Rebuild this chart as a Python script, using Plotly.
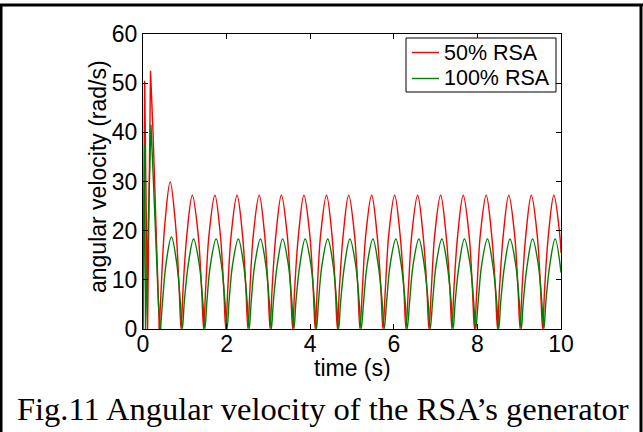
import plotly.graph_objects as go

# ---- data ----
red_t = [0.00, 0.04, 0.11, 0.18, 0.24, 0.30, 0.35,
         0.39, 0.44, 0.52, 0.65, 0.78, 0.86,
         0.91, 0.96, 1.05, 1.18, 1.32, 1.40,
         1.45, 1.50, 1.58, 1.72, 1.85, 1.93,
         1.98, 2.03, 2.11, 2.25, 2.38, 2.46,
         2.51, 2.56, 2.64, 2.78, 2.91, 2.99,
         3.04, 3.09, 3.18, 3.31, 3.45, 3.53,
         3.58, 3.63, 3.72, 3.85, 3.99, 4.07,
         4.12, 4.17, 4.25, 4.39, 4.52, 4.60,
         4.65, 4.70, 4.79, 4.92, 5.06, 5.14,
         5.19, 5.25, 5.33, 5.47, 5.60, 5.69,
         5.74, 5.80, 5.88, 6.02, 6.15, 6.24,
         6.29, 6.35, 6.43, 6.57, 6.70, 6.79,
         6.84, 6.90, 6.98, 7.12, 7.25, 7.34,
         7.39, 7.44, 7.53, 7.66, 7.80, 7.88,
         7.93, 7.99, 8.07, 8.21, 8.34, 8.43,
         8.48, 8.53, 8.62, 8.75, 8.89, 8.97,
         9.02, 9.07, 9.16, 9.29, 9.43, 9.51,
         9.56, 9.61, 9.70, 9.83, 9.97, 10.00]
red_v = [0.0, 50.5, 0.0, 52.5, 40.0, 22.0, 8.0,
         0.0, 9.2, 21.1, 29.9, 21.1, 9.2,
         0.0, 8.4, 19.2, 27.2, 19.2, 8.4,
         0.0, 8.4, 19.2, 27.2, 19.2, 8.4,
         0.0, 8.4, 19.2, 27.2, 19.2, 8.4,
         0.0, 8.4, 19.2, 27.2, 19.2, 8.4,
         0.0, 8.4, 19.2, 27.2, 19.2, 8.4,
         0.0, 8.4, 19.2, 27.2, 19.2, 8.4,
         0.0, 8.4, 19.2, 27.2, 19.2, 8.4,
         0.0, 8.4, 19.2, 27.2, 19.2, 8.4,
         0.0, 8.4, 19.2, 27.2, 19.2, 8.4,
         0.0, 8.4, 19.2, 27.2, 19.2, 8.4,
         0.0, 8.4, 19.2, 27.2, 19.2, 8.4,
         0.0, 8.4, 19.2, 27.2, 19.2, 8.4,
         0.0, 8.4, 19.2, 27.2, 19.2, 8.4,
         0.0, 8.4, 19.2, 27.2, 19.2, 8.4,
         0.0, 8.4, 19.2, 27.2, 19.2, 8.4,
         0.0, 8.4, 19.2, 27.2, 19.2, 8.4,
         0.0, 8.4, 19.2, 27.2, 19.2, 15.5]

green_t = [0.00, 0.04, 0.06, 0.19, 0.25, 0.32, 0.37,
           0.42, 0.47, 0.55, 0.68, 0.81, 0.89,
           0.94, 0.99, 1.08, 1.21, 1.35, 1.43,
           1.48, 1.53, 1.61, 1.75, 1.88, 1.96,
           2.01, 2.06, 2.14, 2.28, 2.41, 2.49,
           2.54, 2.59, 2.67, 2.81, 2.94, 3.02,
           3.07, 3.12, 3.21, 3.34, 3.48, 3.56,
           3.61, 3.66, 3.75, 3.88, 4.02, 4.10,
           4.15, 4.20, 4.28, 4.42, 4.55, 4.63,
           4.68, 4.73, 4.82, 4.95, 5.09, 5.17,
           5.22, 5.28, 5.36, 5.50, 5.63, 5.72,
           5.77, 5.83, 5.91, 6.05, 6.18, 6.27,
           6.32, 6.38, 6.46, 6.60, 6.73, 6.82,
           6.87, 6.93, 7.01, 7.15, 7.28, 7.37,
           7.42, 7.47, 7.56, 7.69, 7.83, 7.91,
           7.96, 8.02, 8.10, 8.24, 8.37, 8.46,
           8.51, 8.56, 8.65, 8.78, 8.92, 9.00,
           9.05, 9.10, 9.19, 9.32, 9.46, 9.54,
           9.59, 9.64, 9.73, 9.86, 10.00]
green_v = [0.0, 37.5, 0.0, 41.6, 30.0, 14.0, 5.0,
           0.0, 5.8, 13.2, 18.7, 13.2, 5.8,
           0.0, 5.7, 12.9, 18.3, 12.9, 5.7,
           0.0, 5.7, 12.9, 18.3, 12.9, 5.7,
           0.0, 5.7, 12.9, 18.3, 12.9, 5.7,
           0.0, 5.7, 12.9, 18.3, 12.9, 5.7,
           0.0, 5.7, 12.9, 18.3, 12.9, 5.7,
           0.0, 5.7, 12.9, 18.3, 12.9, 5.7,
           0.0, 5.7, 12.9, 18.3, 12.9, 5.7,
           0.0, 5.7, 12.9, 18.3, 12.9, 5.7,
           0.0, 5.7, 12.9, 18.3, 12.9, 5.7,
           0.0, 5.7, 12.9, 18.3, 12.9, 5.7,
           0.0, 5.7, 12.9, 18.3, 12.9, 5.7,
           0.0, 5.7, 12.9, 18.3, 12.9, 5.7,
           0.0, 5.7, 12.9, 18.3, 12.9, 5.7,
           0.0, 5.7, 12.9, 18.3, 12.9, 5.7,
           0.0, 5.7, 12.9, 18.3, 12.9, 5.7,
           0.0, 5.7, 12.9, 18.3, 12.9, 5.7,
           0.0, 5.7, 12.9, 18.3, 11.5]

# index where the start-up transient ends and the periodic part begins
red_split, green_split = 7, 7

series_names = ["50% RSA", "100% RSA"]
series_colors = ["#ff0000", "#008000"]
x_ticks = [0, 2, 4, 6, 8, 10]
y_ticks = [0, 10, 20, 30, 40, 50, 60]
x_title = "time (s)"
y_title = "angular velocity (rad/s)"
caption = "Fig.11 Angular velocity of the RSA\u2019s generator"

W, H = 643, 432
L, R, T, B = 143, 82, 34, 103
pw, ph = W - L - R, H - T - B


def px(xp):
    return (xp - L) / pw


def py(yp):
    return (H - B - yp) / ph


fig = go.Figure()
for (t, v, s), name, color in zip([(red_t, red_v, red_split), (green_t, green_v, green_split)],
                                  series_names, series_colors):
    fig.add_trace(go.Scatter(x=t[:s + 1], y=v[:s + 1], mode="lines", name=name,
                             legendgroup=name, showlegend=False, hoverinfo="skip",
                             line=dict(color=color, width=1.4)))
    fig.add_trace(go.Scatter(x=t[s:], y=v[s:], mode="lines", name=name,
                             legendgroup=name, showlegend=False, hoverinfo="skip",
                             line=dict(color=color, width=1.4, shape="spline", smoothing=1)))

sans = "Liberation Sans, Arial, sans-serif"
axis_font = dict(family=sans, size=23, color="black")

fig.update_layout(
    width=W, height=H,
    margin=dict(l=L, r=R, t=T, b=B, pad=0),
    paper_bgcolor="white", plot_bgcolor="white",
    font=axis_font,
    showlegend=False,
    xaxis=dict(range=[0, 10], tickvals=x_ticks, ticktext=[str(v) for v in x_ticks],
               showgrid=False, zeroline=False, showline=True, linecolor="black", linewidth=1,
               mirror="ticks", ticks="inside", ticklen=5, tickcolor="black",
               tickfont=axis_font, ticklabelstandoff=-6),
    yaxis=dict(range=[0, 60], tickvals=y_ticks, ticktext=[str(v) for v in y_ticks],
               showgrid=False, zeroline=False, showline=True, linecolor="black", linewidth=1,
               mirror="ticks", ticks="inside", ticklen=5, tickcolor="black",
               tickfont=axis_font),
)

# axis titles
fig.add_annotation(text=x_title, xref="paper", yref="paper", x=px(352), y=py(368),
                   xanchor="center", yanchor="middle", showarrow=False, font=axis_font)
fig.add_annotation(text=y_title, xref="paper", yref="paper", x=px(98), y=py(177),
                   xanchor="center", yanchor="middle", showarrow=False, textangle=-90,
                   font=axis_font)

# legend box drawn by hand (MATLAB-style compact legend)
fig.add_shape(type="rect", xref="paper", yref="paper", x0=px(406), x1=px(556), y0=py(92), y1=py(38),
              line=dict(color="black", width=1), fillcolor="white", layer="above")
for i, (name, color) in enumerate(zip(series_names, series_colors)):
    yy = [52.5, 78.5][i]
    fig.add_shape(type="line", xref="paper", yref="paper", x0=px(412), x1=px(439), y0=py(yy), y1=py(yy),
                  line=dict(color=color, width=1.4), layer="above")
    fig.add_annotation(text=name, xref="paper", yref="paper", x=px(442), y=py(yy),
                       xanchor="left", yanchor="middle", showarrow=False,
                       font=dict(family=sans, size=21.5, color="black"))

# outer frame of the figure page
border = dict(color="black", width=3)
fig.add_shape(type="line", xref="paper", yref="paper", x0=px(0), x1=px(643), y0=py(5), y1=py(5), line=border)
fig.add_shape(type="line", xref="paper", yref="paper", x0=px(1), x1=px(1), y0=py(5), y1=py(432), line=border)
fig.add_shape(type="line", xref="paper", yref="paper", x0=px(641), x1=px(641), y0=py(5), y1=py(432), line=border)

fig.add_annotation(text=caption, xref="paper", yref="paper", x=px(323), y=py(409),
                   xanchor="center", yanchor="middle", showarrow=False,
                   font=dict(family="Liberation Serif, Times New Roman, serif", size=32.5, color="black"))

fig.write_html("out.html", config={"displayModeBar": False},
               post_script="document.body.style.margin='0';document.body.style.overflow='hidden';")
